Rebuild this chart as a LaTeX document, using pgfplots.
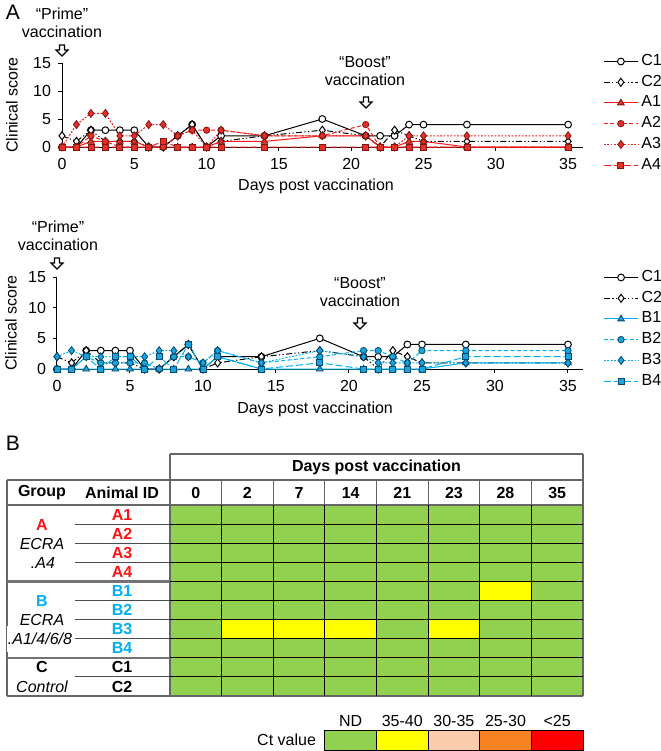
\documentclass[border=0pt]{standalone}
\usepackage{fontspec}
\setmainfont{Liberation Sans}
\usepackage{pgfplots}
\usepackage{pgfplotstable}
\pgfplotsset{compat=1.18}

\definecolor{redln}{RGB}{250,25,25}
\definecolor{redmk}{RGB}{228,50,40}
\definecolor{reded}{RGB}{130,20,20}
\definecolor{bluln}{RGB}{0,176,240}
\definecolor{blumk}{RGB}{25,165,220}
\definecolor{blued}{RGB}{0,75,115}
\definecolor{ctgreen}{RGB}{146,208,80}
\definecolor{ctyellow}{RGB}{255,255,0}
\definecolor{ctpeach}{RGB}{251,204,172}
\definecolor{ctorange}{RGB}{247,130,34}
\definecolor{ctred}{RGB}{255,0,0}
\definecolor{txtred}{RGB}{255,20,20}
\definecolor{txtblue}{RGB}{0,176,240}

\newcommand{\fs}{\fontsize{8}{9}\selectfont}

% clinical scores per animal (C1/C2 are the same controls in both panels)
\pgfplotstableread{
day C1 C2 A1 A2 A3 A4 B1 B2 B3 B4
0  0 2 0 0 0 0 0 0 2 0
1  0 1 0 0 4 0 0 0 3 0
2  3 3 1 2 6 0 0 2 2 2
3  3 1 1 1 6 0 0 1 2 0
4  3 1 1 0 2 0 0 1 2 2
5  3 1 1 0 2 0 0 1 2 2
6  0 0 0 0 4 0 0 1 2 0
7  0 0 0 0 4 1 0 0 3 2
8  2 2 0 2 2 0 0 2 3 0
9  4 4 0 3 3 0 0 2 2 4
10 0 0 0 3 0 0 0 1 1 0
11 2 1 1 3 3 0 2 3 3 2
14 2 2 1 2 2 0 0 1 1 0
18 5 3 2 2 2 0 0 2 3 1
21 2 2 2 4 2 0 0 3 2 0
22 2 0 0 0 0 0 0 3 1 0
23 2 3 0 0 0 0 0 2 1 0
24 4 2 1 0 2 0 0 1 1 0
25 4 1 1 0 2 0 0 3 1 0
28 4 1 0 0 2 0 1 3 1 2
35 4 1 0 0 2 0 1 3 1 2
}\scores

% Ct class per cell: c = day column, r = animal row, v = 0 (ND) / 1 (35-40)
\pgfplotstableread[row sep=\\]{
c r v\\
0 0 0\\1 0 0\\2 0 0\\3 0 0\\4 0 0\\5 0 0\\6 0 0\\7 0 0\\
0 1 0\\1 1 0\\2 1 0\\3 1 0\\4 1 0\\5 1 0\\6 1 0\\7 1 0\\
0 2 0\\1 2 0\\2 2 0\\3 2 0\\4 2 0\\5 2 0\\6 2 0\\7 2 0\\
0 3 0\\1 3 0\\2 3 0\\3 3 0\\4 3 0\\5 3 0\\6 3 0\\7 3 0\\
0 4 0\\1 4 0\\2 4 0\\3 4 0\\4 4 0\\5 4 0\\6 4 1\\7 4 0\\
0 5 0\\1 5 0\\2 5 0\\3 5 0\\4 5 0\\5 5 0\\6 5 0\\7 5 0\\
0 6 0\\1 6 1\\2 6 1\\3 6 1\\4 6 0\\5 6 1\\6 6 0\\7 6 0\\
0 7 0\\1 7 0\\2 7 0\\3 7 0\\4 7 0\\5 7 0\\6 7 0\\7 7 0\\
0 8 0\\1 8 0\\2 8 0\\3 8 0\\4 8 0\\5 8 0\\6 8 0\\7 8 0\\
0 9 0\\1 9 0\\2 9 0\\3 9 0\\4 9 0\\5 9 0\\6 9 0\\7 9 0\\
}\ctcells

\tikzset{gbord/.style={draw=black!60, line width=0.6pt}}

\pgfplotsset{
  clin/.style={
    scale only axis, clip=false,
    axis x line=bottom, axis y line=left,
    axis line style={-, line width=0.5pt, black},
    xmin=0, xmax=36, ymin=0, ymax=15,
    xtick={0,5,...,35}, ytick={0,5,10,15},
    tick align=outside, major tick length=2pt,
    tick style={black, line width=0.5pt},
    tick label style={font=\fs},
    /pgf/number format/assume math mode=true,
    label style={font=\fs},
    xlabel={Days post vaccination}, ylabel={Clinical score},
    legend cell align=left,
    legend style={draw=none, fill=none, inner sep=0pt, font=\fs, row sep=2.3pt,
      nodes={inner sep=0.5pt},
      /tikz/every odd column/.append style={column sep=1pt},
      anchor=north west},
  },
  sC1/.style={black, line width=0.5pt, mark=*, mark size=1.7pt, mark options={fill=white, solid}},
  sC2/.style={black, line width=0.5pt, dash pattern=on 3pt off 1.2pt on 0.6pt off 1.2pt on 0.6pt off 1.2pt,
    mark=diamond*, mark size=2pt, mark options={fill=white, solid}},
  sR/.style={redln, line width=0.5pt, mark options={fill=redmk, draw=reded, solid, line width=0.4pt}},
  sB/.style={bluln, line width=0.5pt, mark options={fill=blumk, draw=blued, solid, line width=0.4pt}},
  g1/.style={mark=triangle*, mark size=1.9pt},
  g2/.style={dash pattern=on 2pt off 1.2pt, mark=*, mark size=1.6pt},
  g3/.style={dash pattern=on 0.9pt off 0.8pt, mark=diamond*, mark size=2pt},
  g4/.style={dash pattern=on 3.5pt off 1.5pt, mark=square*, mark size=1.5pt},
}

% hollow "vaccination" arrow, coordinates in pixels of the page axis
\newcommand{\downarr}[2]{\draw[line width=0.6pt, fill=white]
  ({#1-2.5},{#2}) -- ({#1+2.5},{#2}) -- ({#1+2.5},{#2+5}) -- ({#1+6},{#2+5})
  -- ({#1},{#2+11}) -- ({#1-6},{#2+5}) -- ({#1-2.5},{#2+5}) -- cycle;}

\begin{document}
\begin{tikzpicture}
\useasboundingbox (0,0) rectangle (330pt,-375.5pt);

% page-sized axis in pixel units: annotations and the PCR table
\begin{axis}[at={(0pt,0pt)}, anchor=north west, scale only axis,
    width=330pt, height=375.5pt, xmin=0, xmax=660, ymin=0, ymax=751,
    y dir=reverse, hide axis, clip=false,
    colormap={ctmap}{rgb255=(146,208,80) rgb255=(255,255,0)},
    colormap access=direct]

  \addplot[matrix plot*, mesh/cols=8, point meta=explicit]
    table[x expr={170+51.625*(\thisrow{c}+0.5)}, y expr={505+19.1*(\thisrow{r}+0.5)}, meta=v] {\ctcells};

  % Ct legend bar
  \addplot[fill=ctgreen, draw=black, line width=0.5pt, mark=none] coordinates {(324.9,730) (376.5,730) (376.5,750) (324.9,750) (324.9,730)};
  \addplot[fill=ctyellow, draw=black, line width=0.5pt, mark=none] coordinates {(376.5,730) (428.1,730) (428.1,750) (376.5,750) (376.5,730)};
  \addplot[fill=ctpeach, draw=black, line width=0.5pt, mark=none] coordinates {(428.1,730) (479.8,730) (479.8,750) (428.1,750) (428.1,730)};
  \addplot[fill=ctorange, draw=black, line width=0.5pt, mark=none] coordinates {(479.8,730) (531.4,730) (531.4,750) (479.8,750) (479.8,730)};
  \addplot[fill=ctred, draw=black, line width=0.5pt, mark=none] coordinates {(531.4,730) (583,730) (583,750) (531.4,750) (531.4,730)};

  % table frame
  \draw[gbord] (170,454) -- (583,454);
  \draw[gbord] (170,454) -- (170,696);
  \draw[gbord] (583,454) -- (583,696);
  \draw[gbord] (7,480) -- (583,480);
  \draw[gbord, line width=0.9pt] (7,505) -- (583,505);
  \draw[gbord] (7,480) -- (7,696);
  \draw[gbord] (7,696) -- (583,696);
  \pgfplotsinvokeforeach{1,...,7}{\draw[gbord] ({170+51.625*#1},480) -- ({170+51.625*#1},505);}
  \pgfplotsinvokeforeach{1,...,7}{\draw[black, line width=0.5pt] ({170+51.625*#1},505) -- ({170+51.625*#1},696);}
  \pgfplotsinvokeforeach{1,...,9}{\draw[black, line width=0.5pt] (170,{505+19.1*#1}) -- (583,{505+19.1*#1});}
  \pgfplotsinvokeforeach{1,2,3,5,6,7,9}{\draw[black!70, line width=0.5pt] (75,{505+19.1*#1}) -- (170,{505+19.1*#1});}
  \draw[black!55, line width=1.1pt] (7,581.4) -- (170,581.4);
  \draw[black!55, line width=1.1pt] (7,657.8) -- (170,657.8);

  % table text
  \node[font=\fs\bfseries] at (376.5,467) {Days post vaccination};
  \node[font=\fs\bfseries] at (42,493) {Group};
  \node[font=\fs\bfseries] at (122,493) {Animal ID};
  \node[font=\fs\bfseries] at (195.8,493) {0};
  \node[font=\fs\bfseries] at (247.4,493) {2};
  \node[font=\fs\bfseries] at (299.0,493) {7};
  \node[font=\fs\bfseries] at (350.7,493) {14};
  \node[font=\fs\bfseries] at (402.3,493) {21};
  \node[font=\fs\bfseries] at (453.9,493) {23};
  \node[font=\fs\bfseries] at (505.5,493) {28};
  \node[font=\fs\bfseries] at (557.2,493) {35};
  \node[font=\fs\bfseries, text=txtred] at (122,514.6) {A1};
  \node[font=\fs\bfseries, text=txtred] at (122,533.7) {A2};
  \node[font=\fs\bfseries, text=txtred] at (122,552.8) {A3};
  \node[font=\fs\bfseries, text=txtred] at (122,571.9) {A4};
  \node[font=\fs\bfseries, text=txtblue] at (122,591.0) {B1};
  \node[font=\fs\bfseries, text=txtblue] at (122,610.1) {B2};
  \node[font=\fs\bfseries, text=txtblue] at (122,629.2) {B3};
  \node[font=\fs\bfseries, text=txtblue] at (122,648.3) {B4};
  \node[font=\fs\bfseries] at (122,667.4) {C1};
  \node[font=\fs\bfseries] at (122,686.5) {C2};
  \node[font=\fs\bfseries, text=txtred] at (42,525) {A};
  \node[font=\fs\itshape] at (42,544) {ECRA};
  \node[font=\fs\itshape] at (43,563) {.A4};
  \node[font=\fs\bfseries, text=txtblue] at (42,601) {B};
  \node[font=\fs\itshape] at (42,620) {ECRA};
  \node[font=\fs\itshape, fill=white, inner xsep=0.5pt] at (40,639) {.A1/4/6/8};
  \node[font=\fs\bfseries] at (42,667) {C};
  \node[font=\fs\itshape] at (42,687) {Control};

  % Ct legend labels
  \node[font=\fs, anchor=east] at (323,740) {Ct value};
  \node[font=\fs] at (350.7,721) {ND};
  \node[font=\fs] at (402.3,721) {35-40};
  \node[font=\fs] at (453.9,721) {30-35};
  \node[font=\fs] at (505.5,721) {25-30};
  \node[font=\fs] at (557.2,721) {<25};

  % panel letters and vaccination marks
  \node[font=\fontsize{10.5}{12}\selectfont] at (13,12) {A};
  \node[font=\fontsize{10.5}{12}\selectfont] at (13,443) {B};
  \node[font=\fs, align=center] at (62,23) {“Prime”\\vaccination};
  \downarr{62}{45}
  \node[font=\fs, align=center] at (365,71) {“Boost”\\vaccination};
  \downarr{366}{97}
  \node[font=\fs, align=center] at (58,236) {“Prime”\\vaccination};
  \downarr{57}{258}
  \node[font=\fs, align=center] at (360,292) {“Boost”\\vaccination};
  \downarr{360}{318}
\end{axis}

% panel A: group A vs controls
\begin{axis}[clin, at={(31pt,-73.5pt)}, anchor=south west, width=260.3pt, height=42pt,
    xlabel style={at={(axis description cs:0.488,-0.464)}, anchor=center},
    ylabel style={at={(axis description cs:-0.096,0.5)}, anchor=center},
    legend style={at={(1.039,1.119)}}]
  \addplot[sC1] table[x=day, y=C1] {\scores}; \addlegendentry{C1}
  \addplot[sC2] table[x=day, y=C2] {\scores}; \addlegendentry{C2}
  \addplot[sR, g1] table[x=day, y=A1] {\scores}; \addlegendentry{A1}
  \addplot[sR, g2] table[x=day, y=A2] {\scores}; \addlegendentry{A2}
  \addplot[sR, g3] table[x=day, y=A3] {\scores}; \addlegendentry{A3}
  \addplot[sR, g4] table[x=day, y=A4] {\scores}; \addlegendentry{A4}
\end{axis}

% panel A lower: group B vs controls
\begin{axis}[clin, at={(28.5pt,-184.5pt)}, anchor=south west, width=262.8pt, height=46pt,
    xlabel style={at={(axis description cs:0.491,-0.435)}, anchor=center},
    ylabel style={at={(axis description cs:-0.0875,0.5)}, anchor=center},
    legend style={at={(1.039,1.087)}}]
  \addplot[sC1] table[x=day, y=C1] {\scores}; \addlegendentry{C1}
  \addplot[sC2] table[x=day, y=C2] {\scores}; \addlegendentry{C2}
  \addplot[sB, g1] table[x=day, y=B1] {\scores}; \addlegendentry{B1}
  \addplot[sB, g2] table[x=day, y=B2] {\scores}; \addlegendentry{B2}
  \addplot[sB, g3] table[x=day, y=B3] {\scores}; \addlegendentry{B3}
  \addplot[sB, g4] table[x=day, y=B4] {\scores}; \addlegendentry{B4}
\end{axis}
\end{tikzpicture}
\end{document}
